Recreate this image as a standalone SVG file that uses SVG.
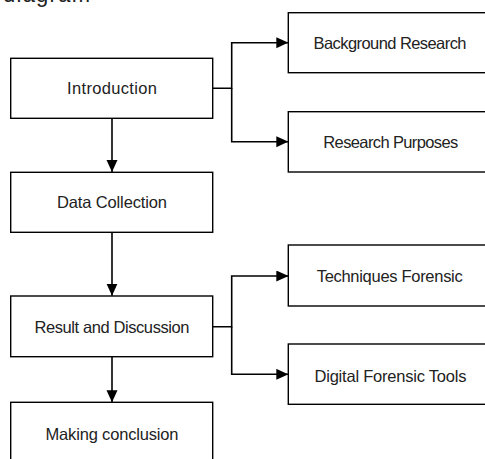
<svg xmlns="http://www.w3.org/2000/svg" width="485" height="459" viewBox="0 0 485 459">
<style>
.box{fill:#fff;stroke:#000;stroke-width:1.4}
.lbl{font-family:"Liberation Sans",Arial,sans-serif;font-size:16.5px;fill:#222;text-anchor:middle}
.con{fill:none;stroke:#000;stroke-width:1.6}
</style>
<defs>
<marker id="ah" markerUnits="userSpaceOnUse" markerWidth="12" markerHeight="12" refX="12" refY="5.5" orient="auto">
<path d="M0,0 L12,5.5 L0,11 Z" fill="#000"/>
</marker>
</defs>
<rect width="485" height="459" fill="#fff"/>
<text x="3" y="1.5" font-family="'Liberation Sans',Arial,sans-serif" font-size="22" fill="#222" textLength="87" lengthAdjust="spacing">diagram</text>
<g id="connectors">
<path class="con" d="M112,118.3 V172" marker-end="url(#ah)"/>
<path class="con" d="M112,232.3 V295.7" marker-end="url(#ah)"/>
<path class="con" d="M112,356.7 V402.3" marker-end="url(#ah)"/>
<path class="con" d="M212.7,88.3 H231.7 V42.7 H288.3" marker-end="url(#ah)"/>
<path class="con" d="M231.7,88.3 V141.7 H288.3" marker-end="url(#ah)"/>
<path class="con" d="M212.7,326.7 H231.7 V276 H288.3" marker-end="url(#ah)"/>
<path class="con" d="M231.7,326.7 V374.3 H288.3" marker-end="url(#ah)"/>
</g>
<g id="introduction">
<rect class="box" x="10.7" y="58.3" width="202" height="60"/>
<text class="lbl" x="112" y="94.3" textLength="90" lengthAdjust="spacing">Introduction</text>
</g>
<g id="data-collection">
<rect class="box" x="10.7" y="172.3" width="202" height="60"/>
<text class="lbl" x="112" y="208.3" textLength="110" lengthAdjust="spacing">Data Collection</text>
</g>
<g id="result-discussion">
<rect class="box" x="10.7" y="296" width="202" height="60.7"/>
<text class="lbl" x="112" y="332.7" textLength="155" lengthAdjust="spacing">Result and Discussion</text>
</g>
<g id="making-conclusion">
<rect class="box" x="10.7" y="402.3" width="202" height="60"/>
<text class="lbl" x="112" y="440" textLength="133" lengthAdjust="spacing">Making conclusion</text>
</g>
<g id="background-research">
<rect class="box" x="288.3" y="12.7" width="210" height="60"/>
<text class="lbl" x="390" y="49.3" textLength="153" lengthAdjust="spacing">Background Research</text>
</g>
<g id="research-purposes">
<rect class="box" x="288.3" y="111.7" width="210" height="60.3"/>
<text class="lbl" x="390.8" y="148.3" textLength="135" lengthAdjust="spacing">Research Purposes</text>
</g>
<g id="techniques-forensic">
<rect class="box" x="288.3" y="245" width="210" height="61"/>
<text class="lbl" x="389.7" y="281.7" textLength="146" lengthAdjust="spacing">Techniques Forensic</text>
</g>
<g id="digital-forensic-tools">
<rect class="box" x="288.3" y="344" width="210" height="60.3"/>
<text class="lbl" x="390.5" y="381.7" textLength="152" lengthAdjust="spacing">Digital Forensic Tools</text>
</g>
</svg>
